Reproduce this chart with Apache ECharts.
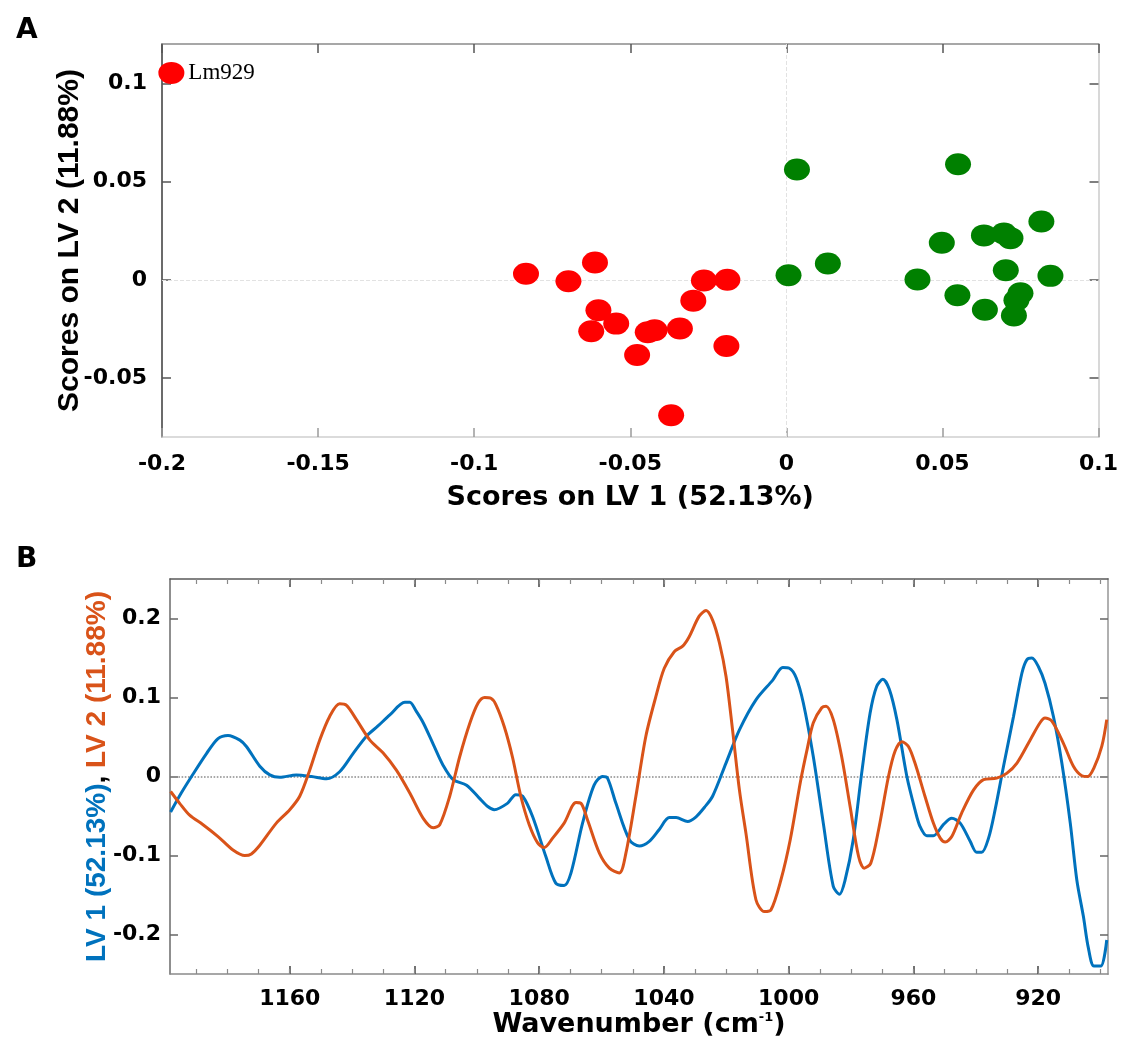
<!DOCTYPE html>
<html>
<head>
<meta charset="utf-8">
<script src="https://cdn.jsdelivr.net/npm/echarts@6/dist/echarts.min.js"></script>
<style>
html,body{margin:0;padding:0;background:#ffffff;}
#chart{width:1121px;height:1048px;}
</style>
</head>
<body>
<div id="chart"></div>
<script>
// ---------- Panel A : PLS-DA scores ----------
const redLV1 = [-0.1970, -0.0834, -0.0698, -0.0613, -0.0602, -0.0545, -0.0625, -0.0478, -0.0444, -0.0422, -0.0341, -0.0298, -0.0264, -0.0189, -0.0192, -0.0369];
const redLV2 = [0.1053, 0.0031, -0.0007, 0.0088, -0.0155, -0.0223, -0.0262, -0.0383, -0.0267, -0.0257, -0.0248, -0.0106, -0.0004, 0.0000, -0.0337, -0.0689];
const redNames = ['Lm929', '', '', '', '', '', '', '', '', '', '', '', '', '', '', ''];
const greenLV1 = [0.0034, 0.0550, 0.0007, 0.0133, 0.0420, 0.0498, 0.0633, 0.0697, 0.0718, 0.0817, 0.0703, 0.0846, 0.0548, 0.0636, 0.0750, 0.0737, 0.0729];
const greenLV2 = [0.0561, 0.0588, 0.0023, 0.0083, 0.0002, 0.0189, 0.0226, 0.0236, 0.0212, 0.0297, 0.0049, 0.0020, -0.0079, -0.0152, -0.0068, -0.0104, -0.0182];
const scoreXTicks = [-0.2, -0.15, -0.1, -0.05, 0, 0.05, 0.1];
const scoreYTicks = [-0.05, 0, 0.05, 0.1];

// ---------- Panel B : loadings ----------
const lv1Wavenumber = [1198.2, 1194.8, 1191.5, 1186.7, 1183.0, 1179.8, 1176.0, 1173.9, 1169.6, 1166.4, 1163.2, 1157.9, 1153.0, 1148.2, 1144.0, 1139.7, 1135.4, 1131.7, 1127.9, 1123.1, 1121.5, 1119.5, 1117.2, 1113.9, 1110.8, 1107.6, 1103.3, 1099.3, 1096.5, 1094.4, 1090.2, 1087.5, 1085.3, 1082.1, 1077.9, 1074.7, 1072.0, 1069.8, 1066.1, 1062.4, 1059.7, 1058.1, 1055.4, 1051.1, 1047.9, 1044.7, 1041.5, 1038.3, 1036.1, 1032.4, 1029.7, 1027.0, 1024.4, 1020.1, 1015.8, 1010.5, 1005.1, 1001.9, 999.8, 997.6, 995.3, 992.1, 988.9, 985.7, 983.7, 981.9, 979.3, 976.6, 973.9, 971.8, 969.8, 967.7, 965.3, 962.1, 959.5, 957.9, 955.7, 953.6, 950.4, 947.7, 945.0, 941.8, 939.7, 938.1, 935.9, 933.8, 931.1, 927.9, 925.2, 923.6, 922.0, 919.9, 917.8, 915.1, 912.4, 909.7, 907.6, 905.5, 903.9, 902.1, 899.9, 898.0];
const lv1Loading = [-0.045, -0.021, 0.000, 0.029, 0.048, 0.052, 0.046, 0.038, 0.013, 0.002, -0.001, 0.002, 0.000, -0.003, 0.006, 0.029, 0.051, 0.064, 0.078, 0.094, 0.094, 0.083, 0.068, 0.040, 0.014, -0.004, -0.011, -0.027, -0.038, -0.042, -0.034, -0.023, -0.025, -0.051, -0.101, -0.135, -0.138, -0.122, -0.059, -0.011, 0.000, -0.002, -0.034, -0.080, -0.088, -0.082, -0.067, -0.052, -0.052, -0.057, -0.051, -0.039, -0.025, 0.017, 0.059, 0.097, 0.122, 0.138, 0.137, 0.125, 0.093, 0.025, -0.059, -0.139, -0.149, -0.131, -0.080, 0.004, 0.080, 0.114, 0.123, 0.110, 0.072, 0.000, -0.042, -0.063, -0.075, -0.075, -0.061, -0.053, -0.059, -0.082, -0.096, -0.096, -0.078, -0.042, 0.013, 0.076, 0.131, 0.148, 0.150, 0.139, 0.118, 0.076, 0.017, -0.059, -0.131, -0.177, -0.217, -0.240, -0.240, -0.207];
const lv2Wavenumber = [1198.2, 1195.3, 1192.1, 1187.8, 1183.0, 1178.2, 1174.4, 1172.3, 1169.6, 1164.3, 1160.0, 1156.8, 1153.6, 1150.4, 1147.2, 1144.0, 1141.8, 1138.6, 1134.3, 1130.1, 1125.8, 1121.5, 1117.2, 1114.0, 1111.9, 1108.7, 1105.5, 1102.2, 1099.6, 1097.5, 1095.5, 1093.9, 1091.2, 1088.6, 1085.9, 1083.2, 1080.5, 1078.4, 1075.7, 1072.0, 1068.2, 1066.6, 1064.5, 1060.7, 1057.5, 1054.3, 1052.2, 1049.0, 1045.8, 1042.6, 1039.9, 1036.7, 1034.0, 1031.9, 1028.7, 1026.5, 1024.4, 1022.2, 1020.1, 1018.0, 1015.8, 1013.7, 1010.5, 1007.8, 1005.7, 1002.5, 999.5, 996.2, 994.0, 992.1, 989.4, 988.0, 985.7, 983.0, 980.3, 977.6, 975.8, 973.7, 971.2, 968.0, 965.9, 963.7, 961.6, 959.5, 956.3, 953.6, 951.4, 949.8, 947.7, 944.5, 940.7, 937.5, 933.3, 930.1, 926.8, 922.6, 919.4, 917.8, 915.6, 911.9, 908.7, 906.0, 904.1, 902.1, 899.6, 898.0];
const lv2Loading = [-0.019, -0.034, -0.049, -0.061, -0.076, -0.093, -0.100, -0.098, -0.087, -0.059, -0.042, -0.025, 0.008, 0.046, 0.076, 0.092, 0.090, 0.072, 0.046, 0.030, 0.008, -0.021, -0.053, -0.065, -0.061, -0.025, 0.025, 0.068, 0.093, 0.100, 0.099, 0.091, 0.063, 0.025, -0.025, -0.061, -0.084, -0.090, -0.078, -0.059, -0.033, -0.034, -0.055, -0.097, -0.116, -0.122, -0.097, -0.025, 0.051, 0.101, 0.137, 0.158, 0.165, 0.177, 0.203, 0.210, 0.198, 0.169, 0.127, 0.059, -0.017, -0.072, -0.156, -0.171, -0.169, -0.131, -0.080, -0.006, 0.036, 0.068, 0.087, 0.089, 0.072, 0.025, -0.038, -0.101, -0.116, -0.110, -0.068, 0.000, 0.032, 0.044, 0.038, 0.017, -0.025, -0.059, -0.078, -0.083, -0.076, -0.046, -0.017, -0.004, -0.002, 0.004, 0.017, 0.046, 0.068, 0.074, 0.070, 0.042, 0.013, 0.001, 0.000, 0.011, 0.038, 0.072];
const wavenumberMajorTicks = [1160, 1120, 1080, 1040, 1000, 960, 920];
const wavenumberMinorTicks = [900, 910, 920, 930, 940, 950, 960, 970, 980, 990, 1000, 1010, 1020, 1030, 1040, 1050, 1060, 1070, 1080, 1090, 1100, 1110, 1120, 1130, 1140, 1150, 1160, 1170, 1180, 1190];
const loadingTicks = [-0.2, -0.1, 0, 0.1, 0.2];

const BLUE = '#0072BD';
const ORANGE = '#D95319';
const tickFont = { color: '#000', fontFamily: 'DejaVu Sans', fontWeight: 'bold', fontSize: 22 };
const fmt = v => String(+(+v).toFixed(4));

const chart = echarts.init(document.getElementById('chart'), null, { renderer: 'canvas' });

function tickOnlyAxis(base, extra) {
  return Object.assign({
    type: 'value',
    axisLabel: { show: false },
    splitLine: { show: false }
  }, base, extra);
}

const option = {
  backgroundColor: '#ffffff',
  animation: false,
  title: [
    { text: 'A', left: 11, top: 12, textStyle: { fontFamily: 'DejaVu Sans', fontWeight: 'bold', fontSize: 28, color: '#000' } },
    { text: 'B', left: 11, top: 541, textStyle: { fontFamily: 'DejaVu Sans', fontWeight: 'bold', fontSize: 28, color: '#000' } }
  ],
  grid: [
    { left: 162, right: 22, top: 44, bottom: 611 },
    { left: 170, right: 13, top: 579, bottom: 74 }
  ],
  xAxis: [
    // panel A bottom
    {
      type: 'value', gridIndex: 0, position: 'bottom', min: -0.2, max: 0.1,
      axisLine: { show: true, onZero: false, lineStyle: { color: '#cfcfcf', width: 1.5 } },
      axisTick: { show: true, inside: true, length: 9, customValues: scoreXTicks, lineStyle: { color: '#9a9a9a', width: 1.5 } },
      axisLabel: { show: true, margin: 16, customValues: scoreXTicks, formatter: fmt, ...tickFont },
      splitLine: { show: false },
      name: 'Scores on LV 1 (52.13%)', nameLocation: 'middle', nameGap: 47, nameMoveOverlap: false,
      nameTextStyle: { color: '#000', fontFamily: 'DejaVu Sans', fontWeight: 'bold', fontSize: 27 }
    },
    // panel A top
    tickOnlyAxis({ gridIndex: 0, position: 'top', min: -0.2, max: 0.1 }, {
      axisLine: { show: true, onZero: false, lineStyle: { color: '#8a8a8a', width: 1.5 } },
      axisTick: { show: true, inside: true, length: 9, customValues: scoreXTicks, lineStyle: { color: '#555', width: 1.5 } }
    }),
    // panel B bottom major
    {
      type: 'value', gridIndex: 1, position: 'bottom', min: 897.6, max: 1198.4, inverse: true,
      axisLine: { show: true, onZero: false, lineStyle: { color: '#8a8a8a', width: 1.5 } },
      axisTick: { show: true, inside: true, length: 8, customValues: wavenumberMajorTicks, lineStyle: { color: '#444', width: 1.5 } },
      axisLabel: { show: true, margin: 14, customValues: wavenumberMajorTicks, formatter: fmt, ...tickFont },
      splitLine: { show: false },
      name: '{n|Wavenumber (cm}{s|-1}{n|)}', nameLocation: 'middle', nameGap: 37, nameMoveOverlap: false,
      nameTextStyle: {
        color: '#000', fontFamily: 'DejaVu Sans', fontWeight: 'bold', fontSize: 27,
        rich: {
          n: { color: '#000', fontFamily: 'DejaVu Sans', fontWeight: 'bold', fontSize: 27 },
          s: { color: '#000', fontFamily: 'DejaVu Sans', fontWeight: 'bold', fontSize: 13, verticalAlign: 'top' }
        }
      }
    },
    // panel B bottom minor
    tickOnlyAxis({ gridIndex: 1, position: 'bottom', min: 897.6, max: 1198.4, inverse: true }, {
      axisLine: { show: false, onZero: false },
      axisTick: { show: true, inside: true, length: 5, customValues: wavenumberMinorTicks, lineStyle: { color: '#8a8a8a', width: 1.2 } }
    }),
    // panel B top major
    tickOnlyAxis({ gridIndex: 1, position: 'top', min: 897.6, max: 1198.4, inverse: true }, {
      axisLine: { show: true, onZero: false, lineStyle: { color: '#5a5a5a', width: 1.5 } },
      axisTick: { show: true, inside: true, length: 8, customValues: wavenumberMajorTicks, lineStyle: { color: '#444', width: 1.5 } }
    }),
    // panel B top minor
    tickOnlyAxis({ gridIndex: 1, position: 'top', min: 897.6, max: 1198.4, inverse: true }, {
      axisLine: { show: false, onZero: false },
      axisTick: { show: true, inside: true, length: 5, customValues: wavenumberMinorTicks, lineStyle: { color: '#8a8a8a', width: 1.2 } }
    })
  ],
  yAxis: [
    // panel A left
    {
      type: 'value', gridIndex: 0, position: 'left', min: -0.08, max: 0.12,
      axisLine: { show: true, onZero: false, lineStyle: { color: '#3a3a3a', width: 1.5 } },
      axisTick: { show: true, inside: true, length: 9, customValues: scoreYTicks, lineStyle: { color: '#555', width: 1.5 } },
      axisLabel: { show: true, margin: 15, customValues: scoreYTicks, formatter: fmt, ...tickFont },
      splitLine: { show: false },
      name: 'Scores on LV 2 (11.88%)', nameLocation: 'middle', nameGap: 77, nameMoveOverlap: false,
      nameTextStyle: { color: '#000', fontFamily: 'Liberation Sans', fontWeight: 'bold', fontSize: 30 }
    },
    // panel A right
    tickOnlyAxis({ gridIndex: 0, position: 'right', min: -0.08, max: 0.12 }, {
      axisLine: { show: true, onZero: false, lineStyle: { color: '#d8d8d8', width: 2 } },
      axisTick: { show: true, inside: true, length: 9, customValues: scoreYTicks, lineStyle: { color: '#555', width: 1.5 } }
    }),
    // panel B left
    {
      type: 'value', gridIndex: 1, position: 'left', min: -0.25, max: 0.25,
      axisLine: { show: true, onZero: false, lineStyle: { color: '#6a6a6a', width: 1.5 } },
      axisTick: { show: true, inside: true, length: 8, customValues: loadingTicks, lineStyle: { color: '#666', width: 1.5 } },
      axisLabel: { show: true, margin: 9, customValues: loadingTicks, formatter: fmt, ...tickFont },
      splitLine: { show: false },
      name: '{b|LV 1 (52.13%)}{k|, }{o|LV 2 (11.88%)}', nameLocation: 'middle', nameGap: 59, nameMoveOverlap: false,
      nameTextStyle: {
        color: '#000', fontFamily: 'Liberation Sans', fontWeight: 'bold', fontSize: 28,
        rich: {
          b: { color: BLUE, fontFamily: 'Liberation Sans', fontWeight: 'bold', fontSize: 28 },
          k: { color: '#000', fontFamily: 'Liberation Sans', fontWeight: 'bold', fontSize: 28 },
          o: { color: ORANGE, fontFamily: 'Liberation Sans', fontWeight: 'bold', fontSize: 28 }
        }
      }
    },
    // panel B right
    tickOnlyAxis({ gridIndex: 1, position: 'right', min: -0.25, max: 0.25 }, {
      axisLine: { show: true, onZero: false, lineStyle: { color: '#b0b0b0', width: 2 } },
      axisTick: { show: true, inside: true, length: 8, customValues: loadingTicks, lineStyle: { color: '#666', width: 1.5 } }
    })
  ],
  series: [
    {
      name: 'zero lines A', type: 'line', xAxisIndex: 0, yAxisIndex: 0, data: [], z: 1,
      markLine: {
        silent: true, symbol: 'none', z: 1, animation: false,
        label: { show: false },
        lineStyle: { color: '#e2e2e2', type: 'dashed', width: 1 },
        data: [{ xAxis: 0 }, { yAxis: 0 }]
      }
    },
    {
      name: 'Group 1', type: 'scatter', xAxisIndex: 0, yAxisIndex: 0, z: 3,
      symbol: 'path://M0 50 A50 50 0 1 1 100 50 A50 50 0 1 1 0 50 Z',
      symbolSize: [26, 22],
      itemStyle: { color: '#ff0000', opacity: 1 },
      label: {
        show: true, position: 'right', distance: 4,
        formatter: p => p.name,
        fontFamily: 'Liberation Serif', fontSize: 23, color: '#000'
      },
      data: redLV1.map((x, i) => ({ name: redNames[i], value: [x, redLV2[i]] }))
    },
    {
      name: 'Group 2', type: 'scatter', xAxisIndex: 0, yAxisIndex: 0, z: 3,
      symbol: 'path://M0 50 A50 50 0 1 1 100 50 A50 50 0 1 1 0 50 Z',
      symbolSize: [26, 22],
      itemStyle: { color: '#008000', opacity: 1 },
      data: greenLV1.map((x, i) => [x, greenLV2[i]])
    },
    {
      name: 'LV 1', type: 'line', xAxisIndex: 2, yAxisIndex: 2, z: 3,
      showSymbol: false, smooth: 0.3,
      lineStyle: { color: BLUE, width: 3 },
      itemStyle: { color: BLUE },
      data: lv1Wavenumber.map((w, i) => [w, lv1Loading[i]]),
      markLine: {
        silent: true, symbol: 'none', z: 2, animation: false,
        label: { show: false },
        lineStyle: { color: '#8c8c8c', type: 'dotted', width: 1.6 },
        data: [{ yAxis: 0 }]
      }
    },
    {
      name: 'LV 2', type: 'line', xAxisIndex: 2, yAxisIndex: 2, z: 4,
      showSymbol: false, smooth: 0.3,
      lineStyle: { color: ORANGE, width: 3 },
      itemStyle: { color: ORANGE },
      data: lv2Wavenumber.map((w, i) => [w, lv2Loading[i]])
    }
  ]
};

chart.setOption(option);
</script>
</body>
</html>
